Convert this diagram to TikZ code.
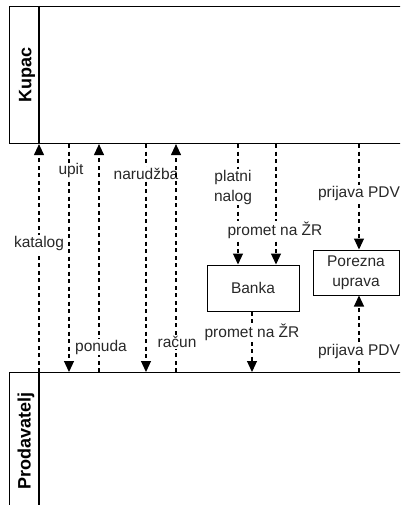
\documentclass[tikz,border=0pt]{standalone}
\usepackage{fontspec}
\setmainfont{Liberation Sans}
\usepackage{tikz}
\usetikzlibrary{positioning,arrows.meta,calc}
\definecolor{bpmnText}{RGB}{40,40,40}
\tikzset{
  bpmn/pool/.style={draw, line width=1.1pt, inner sep=0pt, anchor=north west,
                    minimum width=400pt},
  bpmn/head/.style={rotate=90, font=\fontsize{18}{20}\selectfont\bfseries},
  bpmn/task/.style={draw, line width=1pt, align=center, inner sep=2pt,
                    text=bpmnText, font=\fontsize{15.5}{20}\selectfont},
  bpmn/msg/.style={-{Triangle[width=10pt,length=11pt]}, line width=1.1pt,
                   dash pattern=on 4pt off 3.5pt, draw=black},
  bpmn/lbl/.style={fill=white, inner sep=1pt, align=center, text=bpmnText,
                   font=\fontsize{15.5}{19.5}\selectfont},
}

\begin{document}
\begin{tikzpicture}[x=1pt, y=-1pt]
  \useasboundingbox (0,0) rectangle (400,505);
  \clip (0,0) rectangle (400,505);

  % ---------------- pools ----------------
  \node[bpmn/pool, minimum height=137pt] (kupac) at (9,6) {};
  \node[bpmn/pool, minimum height=140pt] (prodavatelj) at (9,372) {};
  \coordinate (hdr) at (39,0);
  \draw[line width=1.1pt] (kupac.north west -| hdr) -- (kupac.south west -| hdr);
  \draw[line width=1.1pt] (prodavatelj.north west -| hdr) -- (prodavatelj.south west -| hdr);
  \node[bpmn/head] (kupaclbl) at (27,75) {Kupac};
  \node[bpmn/head] (prodlbl) at (26,441) {Prodavatelj};

  % ---------------- tasks ----------------
  \node[bpmn/task, minimum width=92pt, minimum height=46pt] (banka) at (253,288) {Banka};
  \node[bpmn/task, minimum width=86pt, minimum height=45pt] (porezna) at (356,272.5)
    {Porezna\\uprava};

  % ---------------- message lanes ----------------
  \coordinate (xkat) at (39,0);
  \coordinate (xupit) at (69,0);
  \coordinate (xpon) at (99,0);
  \coordinate (xnar) at (146,0);
  \coordinate (xrac) at (176,0);
  \coordinate (xnal) at (238,0);
  \coordinate (xprom) at (276,0);
  \coordinate (xbank) at (252,0);
  \coordinate (xpdv) at (359,0);

  % ---------------- Kupac <-> Prodavatelj ----------------
  \draw[bpmn/msg] (prodavatelj.north -| xkat) -- (kupac.south -| xkat)
    node[bpmn/lbl, pos=0.563]{katalog};
  \draw[bpmn/msg] (kupac.south -| xupit) -- (prodavatelj.north -| xupit)
    node[bpmn/lbl, pos=0.118, xshift=2pt]{upit};
  \draw[bpmn/msg] (prodavatelj.north -| xpon) -- (kupac.south -| xpon)
    node[bpmn/lbl, pos=0.109, xshift=2pt]{ponuda};
  \draw[bpmn/msg] (kupac.south -| xnar) -- (prodavatelj.north -| xnar)
    node[bpmn/lbl, pos=0.131]{narudžba};
  \draw[bpmn/msg] (prodavatelj.north -| xrac) -- (kupac.south -| xrac)
    node[bpmn/lbl, pos=0.131, xshift=1pt]{račun};

  % ---------------- banka ----------------
  \draw[bpmn/msg] (kupac.south -| xnal) -- (banka.north -| xnal)
    node[bpmn/lbl, pos=0.36, xshift=-5pt]{platni\\nalog};
  \draw[bpmn/msg] (kupac.south -| xprom) -- (banka.north -| xprom)
    node[bpmn/lbl, pos=0.713, xshift=-1pt]{promet na ŽR};
  \draw[bpmn/msg] (banka.south -| xbank) -- (prodavatelj.north -| xbank)
    node[bpmn/lbl, pos=0.344]{promet na ŽR};

  % ---------------- porezna uprava ----------------
  \draw[bpmn/msg] (kupac.south -| xpdv) -- (porezna.north -| xpdv)
    node[bpmn/lbl, pos=0.467]{prijava PDV};
  \draw[bpmn/msg] (prodavatelj.north -| xpdv) -- (porezna.south -| xpdv)
    node[bpmn/lbl, pos=0.27]{prijava PDV};

\end{tikzpicture}
\end{document}
